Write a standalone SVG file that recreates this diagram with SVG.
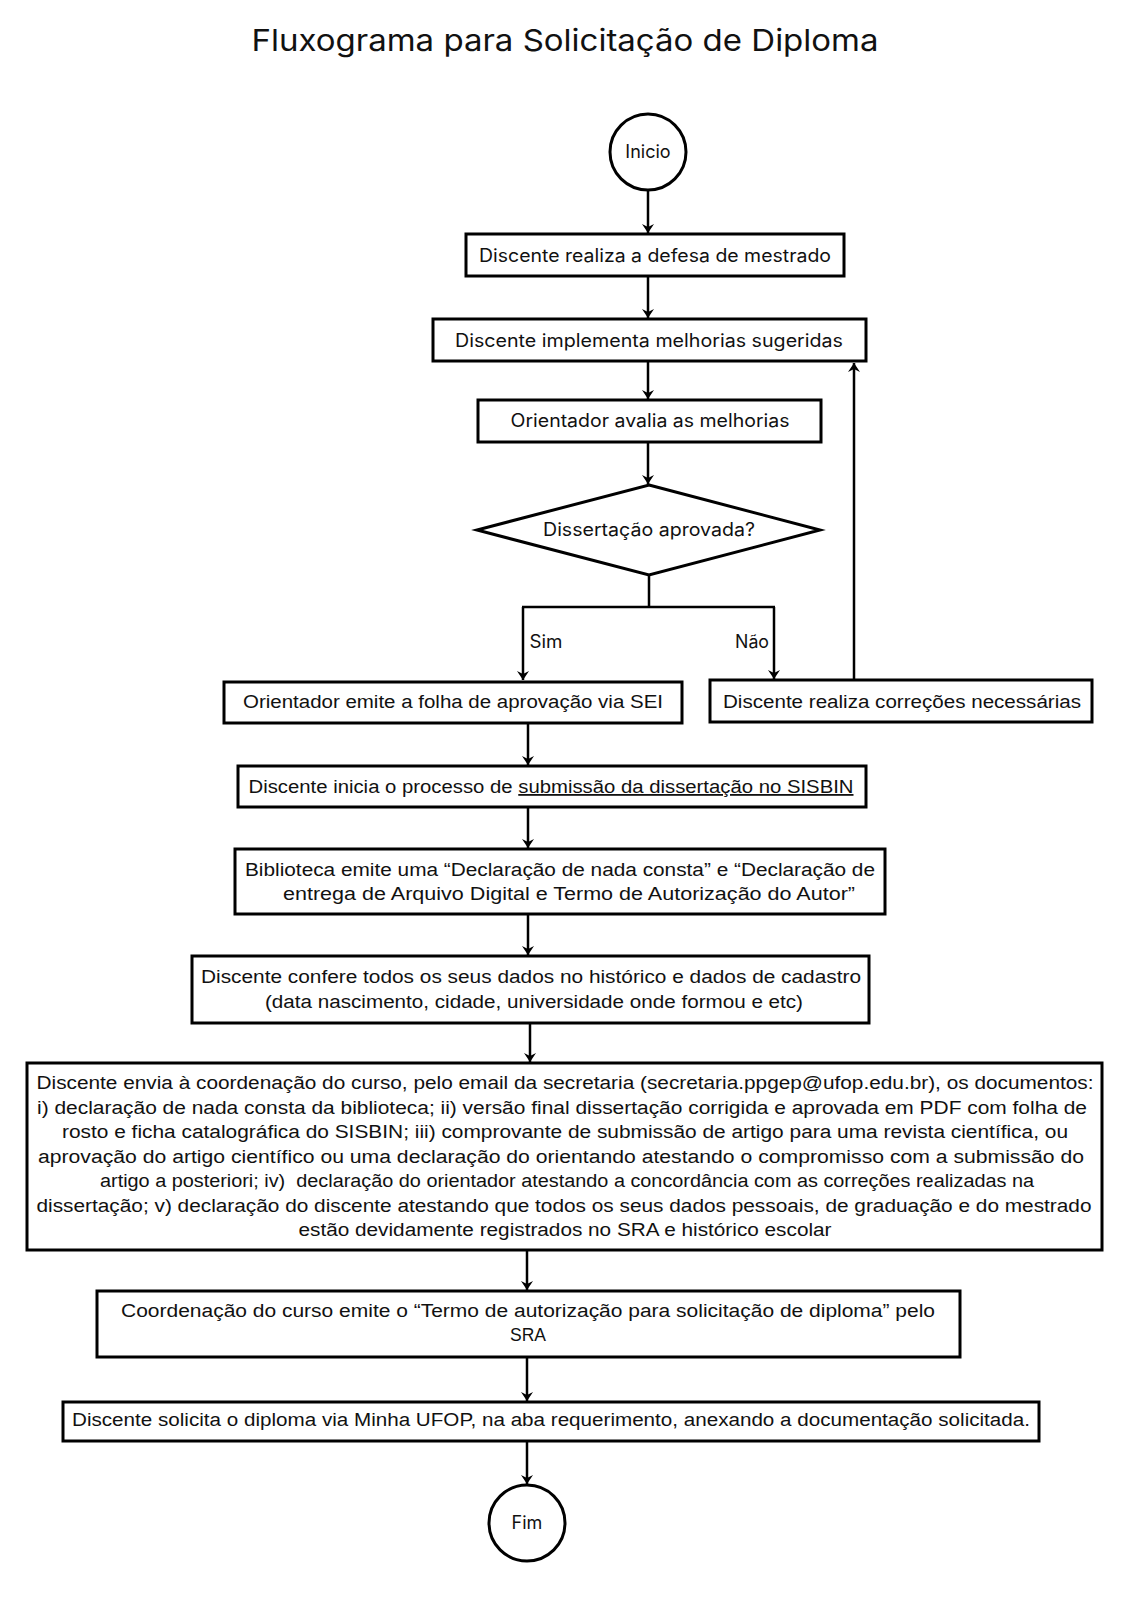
<svg xmlns="http://www.w3.org/2000/svg" width="1131" height="1600" viewBox="0 0 1131 1600">
<style>
.bg{fill:#fff}
.box{fill:#fff;stroke:#000;stroke-width:3}
.t{font-family:Inter,"Noto Sans","Liberation Sans",sans-serif;font-size:18px;fill:#111;text-anchor:middle}
.c{font-family:"Liberation Sans",Inter,sans-serif;font-size:18px;fill:#111;text-anchor:middle}
.title{font-family:Inter,"Noto Sans","Liberation Sans",sans-serif;font-size:30px;fill:#111;text-anchor:middle}
.ln{fill:none;stroke:#000;stroke-width:2.5}
</style>
<defs>
<marker id="ah" markerUnits="userSpaceOnUse" markerWidth="14" markerHeight="14" viewBox="0 0 14 14" refX="13" refY="7" orient="auto">
<path d="M4,1 L13,7 L4,13 L7,7 Z" fill="#000"/>
</marker>
</defs>
<rect class="bg" width="1131" height="1600"/>
<text class="title" x="565" y="51" textLength="627" lengthAdjust="spacingAndGlyphs">Fluxograma para Solicitação de Diploma</text>

<g id="connectors">
<path class="ln" d="M648,191 V233" marker-end="url(#ah)"/>
<path class="ln" d="M648,276 V318" marker-end="url(#ah)"/>
<path class="ln" d="M648,361 V399" marker-end="url(#ah)"/>
<path class="ln" d="M648,442 V484" marker-end="url(#ah)"/>
<path class="ln" d="M649,575 V607 M522,607 H775"/>
<path class="ln" d="M523,607 V680" marker-end="url(#ah)"/>
<path class="ln" d="M774,607 V679" marker-end="url(#ah)"/>
<path class="ln" d="M854,679 V363" marker-end="url(#ah)"/>
<path class="ln" d="M528,723 V765" marker-end="url(#ah)"/>
<path class="ln" d="M528,807 V848" marker-end="url(#ah)"/>
<path class="ln" d="M528,914 V955" marker-end="url(#ah)"/>
<path class="ln" d="M530,1023 V1062" marker-end="url(#ah)"/>
<path class="ln" d="M527,1250 V1290" marker-end="url(#ah)"/>
<path class="ln" d="M527,1357 V1401" marker-end="url(#ah)"/>
<path class="ln" d="M527,1441 V1484" marker-end="url(#ah)"/>
<text class="t" x="546" y="648" textLength="33" lengthAdjust="spacingAndGlyphs">Sim</text>
<text class="t" x="752" y="648" textLength="34" lengthAdjust="spacingAndGlyphs">Não</text>
</g>

<g id="inicio">
<circle class="box" cx="648" cy="152" r="38"/>
<text class="t" x="648" y="158" font-size="19">Inicio</text>
</g>

<g id="defesa">
<rect class="box" x="466" y="234" width="378" height="42"/>
<text class="t" x="655" y="262" textLength="352" lengthAdjust="spacingAndGlyphs">Discente realiza a defesa de mestrado</text>
</g>

<g id="melhorias">
<rect class="box" x="433" y="319" width="433" height="42"/>
<text class="t" x="649" y="347" textLength="388" lengthAdjust="spacingAndGlyphs">Discente implementa melhorias sugeridas</text>
</g>

<g id="avalia">
<rect class="box" x="478" y="400" width="343" height="42"/>
<text class="t" x="650" y="427" textLength="279" lengthAdjust="spacingAndGlyphs">Orientador avalia as melhorias</text>
</g>

<g id="decisao">
<polygon class="box" points="649,485 820,530 649,575 477,530"/>
<text class="t" x="649" y="536" textLength="212" lengthAdjust="spacingAndGlyphs">Dissertação aprovada?</text>
</g>

<g id="folha">
<rect class="box" x="224" y="682" width="458" height="41"/>
<text class="c" x="453" y="708" textLength="420" lengthAdjust="spacingAndGlyphs">Orientador emite a folha de aprovação via SEI</text>
</g>

<g id="correcoes">
<rect class="box" x="710" y="680" width="382" height="42"/>
<text class="c" x="902" y="708" textLength="358" lengthAdjust="spacingAndGlyphs">Discente realiza correções necessárias</text>
</g>

<g id="sisbin">
<rect class="box" x="238" y="766" width="628" height="41"/>
<text class="c" x="551" y="793" textLength="605" lengthAdjust="spacingAndGlyphs">Discente inicia o processo de <tspan text-decoration="underline">submissão da dissertação no SISBIN</tspan></text>
</g>

<g id="biblioteca">
<rect class="box" x="235" y="849" width="650" height="65"/>
<text class="c" x="560" y="876" textLength="630" lengthAdjust="spacingAndGlyphs">Biblioteca emite uma “Declaração de nada consta” e “Declaração de</text>
<text class="c" x="569" y="900" textLength="572" lengthAdjust="spacingAndGlyphs">entrega de Arquivo Digital e Termo de Autorização do Autor”</text>
</g>

<g id="confere">
<rect class="box" x="192" y="956" width="677" height="67"/>
<text class="c" x="531" y="983" textLength="660" lengthAdjust="spacingAndGlyphs">Discente confere todos os seus dados no histórico e dados de cadastro</text>
<text class="c" x="534" y="1008" textLength="538" lengthAdjust="spacingAndGlyphs">(data nascimento, cidade, universidade onde formou e etc)</text>
</g>

<g id="envia">
<rect class="box" x="27" y="1063" width="1075" height="187"/>
<text class="c" x="565" y="1089" textLength="1057" lengthAdjust="spacingAndGlyphs">Discente envia à coordenação do curso, pelo email da secretaria (secretaria.ppgep@ufop.edu.br), os documentos:</text>
<text class="c" x="562" y="1114" textLength="1050" lengthAdjust="spacingAndGlyphs">i) declaração de nada consta da biblioteca; ii) versão final dissertação corrigida e aprovada em PDF com folha de</text>
<text class="c" x="565" y="1138" textLength="1006" lengthAdjust="spacingAndGlyphs">rosto e ficha catalográfica do SISBIN; iii) comprovante de submissão de artigo para uma revista científica, ou</text>
<text class="c" x="561" y="1163" textLength="1046" lengthAdjust="spacingAndGlyphs">aprovação do artigo científico ou uma declaração do orientando atestando o compromisso com a submissão do</text>
<text class="c" x="567" y="1187" textLength="934" lengthAdjust="spacingAndGlyphs" xml:space="preserve">artigo a posteriori; iv)  declaração do orientador atestando a concordância com as correções realizadas na</text>
<text class="c" x="564" y="1212" textLength="1055" lengthAdjust="spacingAndGlyphs">dissertação; v) declaração do discente atestando que todos os seus dados pessoais, de graduação e do mestrado</text>
<text class="c" x="565" y="1236" textLength="533" lengthAdjust="spacingAndGlyphs">estão devidamente registrados no SRA e histórico escolar</text>
</g>

<g id="termo">
<rect class="box" x="97" y="1291" width="863" height="66"/>
<text class="c" x="528" y="1317" textLength="814" lengthAdjust="spacingAndGlyphs">Coordenação do curso emite o “Termo de autorização para solicitação de diploma” pelo</text>
<text class="c" x="528" y="1341" textLength="36" lengthAdjust="spacingAndGlyphs">SRA</text>
</g>

<g id="solicita">
<rect class="box" x="63" y="1402" width="976" height="39"/>
<text class="c" x="551" y="1426" textLength="958" lengthAdjust="spacingAndGlyphs">Discente solicita o diploma via Minha UFOP, na aba requerimento, anexando a documentação solicitada.</text>
</g>

<g id="fim">
<circle class="box" cx="527" cy="1523" r="38"/>
<text class="t" x="527" y="1529">Fim</text>
</g>
</svg>
